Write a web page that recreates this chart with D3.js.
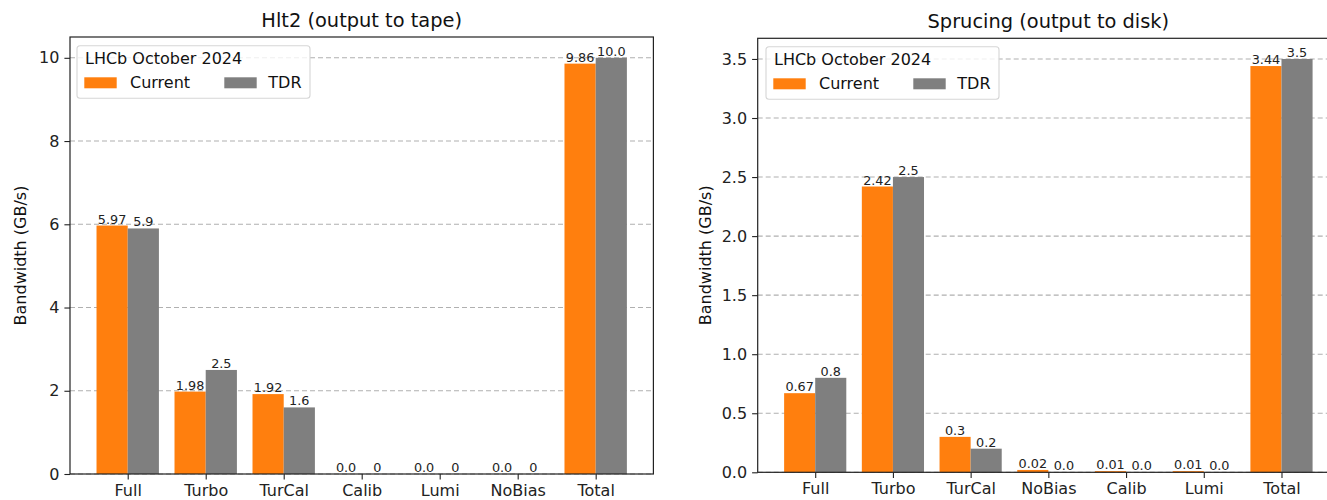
<!DOCTYPE html>
<html>
<head>
<meta charset="utf-8">
<script src="https://cdn.jsdelivr.net/npm/d3@7"></script>
<style>
  html, body { margin: 0; padding: 0; background: #fff; }
  svg { display: block; font-family: "DejaVu Sans", sans-serif; }
</style>
</head>
<body>
<svg id="chart" width="1327" height="500"></svg>
<script>
// ---- Hlt2 (output to tape) ----
const hltCategories = ["Full", "Turbo", "TurCal", "Calib", "Lumi", "NoBias", "Total"];
const hltCurrent = [5.97, 1.98, 1.92, 0.0, 0.0, 0.0, 9.86];
const hltTDR = [5.9, 2.5, 1.6, 0, 0, 0, 10.0];
const hltCurrentLabels = ["5.97", "1.98", "1.92", "0.0", "0.0", "0.0", "9.86"];
const hltTDRLabels = ["5.9", "2.5", "1.6", "0", "0", "0", "10.0"];
const hltTicks = [0, 2, 4, 6, 8, 10];
const hltTickLabels = ["0", "2", "4", "6", "8", "10"];

// ---- Sprucing (output to disk) ----
const sprCategories = ["Full", "Turbo", "TurCal", "NoBias", "Calib", "Lumi", "Total"];
const sprCurrent = [0.67, 2.42, 0.3, 0.02, 0.01, 0.01, 3.44];
const sprTDR = [0.8, 2.5, 0.2, 0.0, 0.0, 0.0, 3.5];
const sprCurrentLabels = ["0.67", "2.42", "0.3", "0.02", "0.01", "0.01", "3.44"];
const sprTDRLabels = ["0.8", "2.5", "0.2", "0.0", "0.0", "0.0", "3.5"];
const sprTicks = [0, 0.5, 1.0, 1.5, 2.0, 2.5, 3.0, 3.5];
const sprTickLabels = ["0.0", "0.5", "1.0", "1.5", "2.0", "2.5", "3.0", "3.5"];

const seriesNames = ["Current", "TDR"];
const seriesColors = ["#ff7f0e", "#7f7f7f"];
const legendTitle = "LHCb October 2024";
const yAxisTitle = "Bandwidth (GB/s)";

const svg = d3.select("#chart");

function drawPanel(opts) {
  const { left, right, top, bottom, title, categories, current, tdr,
          currentLabels, tdrLabels, ticks, tickLabels, yMax, yLabelX, legendX, legendY } = opts;
  const g = svg.append("g");

  // numeric band positions: category i sits at i, bars span i-0.4 .. i+0.4, 5% margins
  const x = d3.scaleLinear().domain([-0.74, categories.length - 1 + 0.74]).range([left, right]);
  const y = d3.scaleLinear().domain([0, yMax]).range([bottom, top]);
  const barW = 0.4;

  // grid lines
  g.append("g").selectAll("line").data(ticks).join("line")
    .attr("x1", left).attr("x2", right)
    .attr("y1", d => y(d)).attr("y2", d => y(d))
    .attr("stroke", "#b0b0b0").attr("stroke-width", 1.1)
    .attr("stroke-dasharray", "5,3");

  // bars and their value labels
  const series = [current, tdr];
  const labels = [currentLabels, tdrLabels];
  series.forEach((vals, s) => {
    const offset = s === 0 ? -barW : 0;
    g.append("g").selectAll("rect").data(vals).join("rect")
      .attr("x", (d, i) => x(i + offset))
      .attr("width", x(barW) - x(0))
      .attr("y", d => y(d))
      .attr("height", d => y(0) - y(d))
      .attr("fill", seriesColors[s]);
    g.append("g").selectAll("text").data(vals).join("text")
      .attr("x", (d, i) => x(i + offset + barW / 2))
      .attr("y", d => y(d) - 2)
      .attr("text-anchor", "middle")
      .attr("font-size", 12.8)
      .attr("fill", "#222")
      .text((d, i) => labels[s][i]);
  });

  // axes
  const yAxis = d3.axisLeft(y).tickValues(ticks).tickFormat((d, i) => tickLabels[i])
    .tickSize(5.6).tickPadding(5);
  const yG = g.append("g").attr("transform", `translate(${left},0)`).call(yAxis);
  yG.select(".domain").remove();
  yG.selectAll("text").attr("font-size", 16).attr("fill", "#222").attr("font-family", "DejaVu Sans, sans-serif");
  yG.selectAll("line").attr("stroke", "#222").attr("stroke-width", 1.1);

  const xAxis = d3.axisBottom(x).tickValues(d3.range(categories.length))
    .tickFormat(i => categories[i]).tickSize(5.6).tickPadding(5);
  const xG = g.append("g").attr("transform", `translate(0,${bottom})`).call(xAxis);
  xG.select(".domain").remove();
  xG.selectAll("text").attr("font-size", 16).attr("fill", "#222").attr("font-family", "DejaVu Sans, sans-serif");
  xG.selectAll("line").attr("stroke", "#222").attr("stroke-width", 1.1);

  // frame
  g.append("rect").attr("x", left).attr("y", top)
    .attr("width", right - left).attr("height", bottom - top)
    .attr("fill", "none").attr("stroke", "#222").attr("stroke-width", 1.2);

  // title
  g.append("text").attr("x", (left + right) / 2).attr("y", top - 10)
    .attr("text-anchor", "middle").attr("font-size", 19.4).attr("fill", "#111")
    .text(title);

  // y-axis title
  g.append("text")
    .attr("transform", `translate(${yLabelX},${(top + bottom) / 2}) rotate(-90)`)
    .attr("text-anchor", "middle").attr("font-size", 16).attr("fill", "#111")
    .text(yAxisTitle);

  // legend
  const lg = g.append("g").attr("transform", `translate(${legendX},${legendY})`);
  lg.append("rect").attr("x", 0).attr("y", 0).attr("width", 233).attr("height", 52.6)
    .attr("rx", 3).attr("fill", "#fff").attr("fill-opacity", 0.8)
    .attr("stroke", "#d6d6d6").attr("stroke-width", 1.1);
  lg.append("text").attr("x", 8).attr("y", 18.6).attr("font-size", 16).attr("fill", "#111")
    .text(legendTitle);
  const entryX = [7.3, 147.3];
  const textX = [53, 191.3];
  seriesNames.forEach((name, s) => {
    lg.append("rect").attr("x", entryX[s]).attr("y", 31.6).attr("width", 32.4).attr("height", 11)
      .attr("fill", seriesColors[s]);
    lg.append("text").attr("x", textX[s]).attr("y", 42.6).attr("font-size", 16).attr("fill", "#111")
      .text(name);
  });
}

drawPanel({
  left: 70, right: 653.4, top: 37, bottom: 474,
  title: "Hlt2 (output to tape)",
  categories: hltCategories, current: hltCurrent, tdr: hltTDR,
  currentLabels: hltCurrentLabels, tdrLabels: hltTDRLabels,
  ticks: hltTicks, tickLabels: hltTickLabels, yMax: 10.5,
  yLabelX: 26, legendX: 77, legendY: 45.7
});

drawPanel({
  left: 757.7, right: 1339, top: 38.3, bottom: 472.3,
  title: "Sprucing (output to disk)",
  categories: sprCategories, current: sprCurrent, tdr: sprTDR,
  currentLabels: sprCurrentLabels, tdrLabels: sprTDRLabels,
  ticks: sprTicks, tickLabels: sprTickLabels, yMax: 3.675,
  yLabelX: 711, legendX: 766, legendY: 46.7
});
</script>
</body>
</html>
